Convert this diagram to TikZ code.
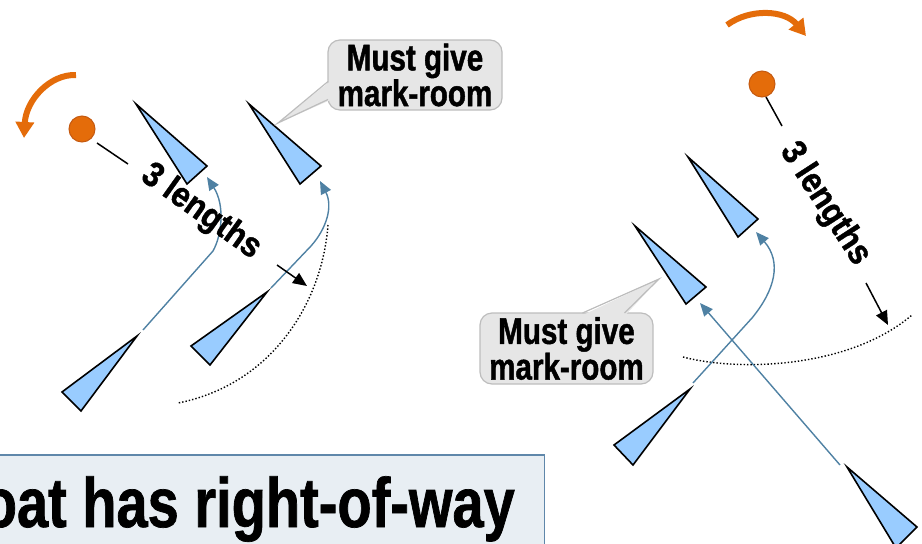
\documentclass[tikz,border=0pt]{standalone}
\usepackage{fontspec}
\setmainfont{Liberation Sans}
\newfontfamily\narrowfont[FakeStretch=0.8,FakeBold=1.2]{Liberation Sans}
\newfontfamily\titlefont[FakeStretch=0.8,FakeBold=1]{Liberation Sans}
\newfontfamily\semifont[FakeStretch=0.9,FakeBold=1.2]{Liberation Sans}
\usetikzlibrary{arrows.meta}
\definecolor{orng}{HTML}{E46C0A}
\definecolor{orngdk}{HTML}{C55A11}
\definecolor{boatfill}{HTML}{99CCFF}
\definecolor{pathblue}{HTML}{4F81A3}
\definecolor{callfill}{HTML}{E6E6E6}
\definecolor{calldraw}{HTML}{BDBDBD}
\definecolor{boxfill}{HTML}{E8EEF3}
\definecolor{boxdraw}{HTML}{5F87AA}
\begin{document}
\begin{tikzpicture}[x=1pt,y=-1pt,
  boat/.style={draw=black,fill=boatfill,line width=1.6pt,line join=miter},
  course/.style={draw=pathblue,line width=1.4pt,-{Triangle[length=13pt,width=11pt]}},
  rot/.style={draw=orng,line width=6pt,-{Triangle[length=16pt,width=18pt]}},
  markc/.style={circle,fill=orng,draw=orngdk,line width=1pt,minimum size=26pt,inner sep=0pt},
  lead/.style={draw=black,line width=1.5pt},
  leadarrow/.style={lead,-{Triangle[length=14pt,width=12pt]}},
  zone/.style={draw=black,dotted,line width=1.4pt},
  callbox/.style={draw=calldraw,fill=callfill,line width=1.2pt,rounded corners=12pt,align=center,
    font=\narrowfont\bfseries\fontsize{37}{29}\selectfont,inner sep=0pt},
  callptr/.style={draw=calldraw,line width=1.2pt,line join=miter},
  lentext/.style={font=\semifont\bfseries\fontsize{35}{40}\selectfont,inner sep=0pt},
  titlebox/.style={draw=boxdraw,fill=boxfill,line width=1.5pt,inner sep=0pt},
  titletext/.style={font=\titlefont\bfseries\fontsize{70}{72}\selectfont,inner sep=0pt}
]
\useasboundingbox (0,0) rectangle (922,544);
\clip (0,0) rectangle (922,544);

% ---------------- left scene ----------------
\node[markc] (m1) at (82,129) {};
\draw[rot] (76,75) .. controls (50,74) and (26,100) .. (24,138);

% zone
\draw[zone] (328,225) .. controls (322,305) and (270,385) .. (178,403);

% boats
\draw[boat] (136,104) -- (207,166) -- (187,184) -- cycle;
\draw[boat] (249,104) -- (321,166) -- (300,184) -- cycle;
\draw[boat] (137,336) -- (62,392) -- (81,411) -- cycle;
\draw[boat] (267,292) -- (191,346) -- (210,365) -- cycle;

% courses
\coordinate (p1s) at (143,330);
\coordinate (p1e) at (207,177);
\coordinate (p2s) at (271,288);
\coordinate (p2e) at (320,181);
\draw[course] (p1s) -- (213,251) .. controls (222,235) and (225,205) .. (p1e);
\draw[course] (p2s) -- (311,246) .. controls (327,228) and (333,206) .. (p2e);

% 3 lengths
\coordinate (l1a) at (97,143);
\coordinate (l1b) at (128,164);
\coordinate (l1c) at (277,265);
\coordinate (l1d) at (307,286);
\draw[lead] (l1a) -- (l1b);
\node[lentext,rotate=-35.5] (t1) at (201,212) {3 lengths};
\draw[leadarrow] (l1c) -- (l1d);

% callout 1
\node[callbox,minimum width=174pt,minimum height=70pt] (c1) at (415,75) {Must give\\mark-room};
\coordinate (c1tip) at (278,123);
\fill[callfill] (330.5,81) -- (c1tip) -- (330.5,100) -- cycle;
\draw[callptr] (328,81.5) -- (c1tip) -- (328,99.5);

% ---------------- right scene ----------------
\node[markc] (m2) at (762,84) {};
\draw[rot] (727,25) .. controls (750,8) and (785,10) .. (806,36);

\draw[zone] (683,357) .. controls (740,372) and (850,368) .. (912,315);

\draw[boat] (688,157) -- (758,219) -- (738,237) -- cycle;
\draw[boat] (635,226) -- (706,287) -- (686,304) -- cycle;
\draw[boat] (690,389) -- (614,445) -- (633,465) -- cycle;
\draw[boat] (847,467) -- (917,527) -- (896,548) -- cycle;

\coordinate (q1s) at (693,383);
\coordinate (q1e) at (756,232);
\coordinate (q2s) at (840,465);
\coordinate (q2e) at (700,303);
\draw[course] (q1s) -- (752,318) .. controls (775,290) and (782,262) .. (q1e);
\draw[course] (q2s) -- (q2e);

\coordinate (l2a) at (766,97);
\coordinate (l2b) at (782,126);
\coordinate (l2c) at (866,283);
\coordinate (l2d) at (888,325);
\draw[lead] (l2a) -- (l2b);
\node[lentext,rotate=-57] (t2) at (825,204) {3 lengths};
\draw[leadarrow] (l2c) -- (l2d);

% callout 2
\node[callbox,minimum width=173pt,minimum height=71pt] (c2) at (566.5,348.5) {Must give\\mark-room};
\coordinate (c2tip) at (659,279);
\fill[callfill] (582,315.5) -- (c2tip) -- (625,315.5) -- cycle;
\draw[callptr] (582.5,313) -- (c2tip) -- (624.5,313);

% ---------------- title box ----------------
\node[titlebox,anchor=north east,minimum width=580pt,minimum height=120pt] (bx) at (545,454) {};
\node[titletext,anchor=base east] (title) at (515,527) {boat has right-of-way};
\end{tikzpicture}
\end{document}
